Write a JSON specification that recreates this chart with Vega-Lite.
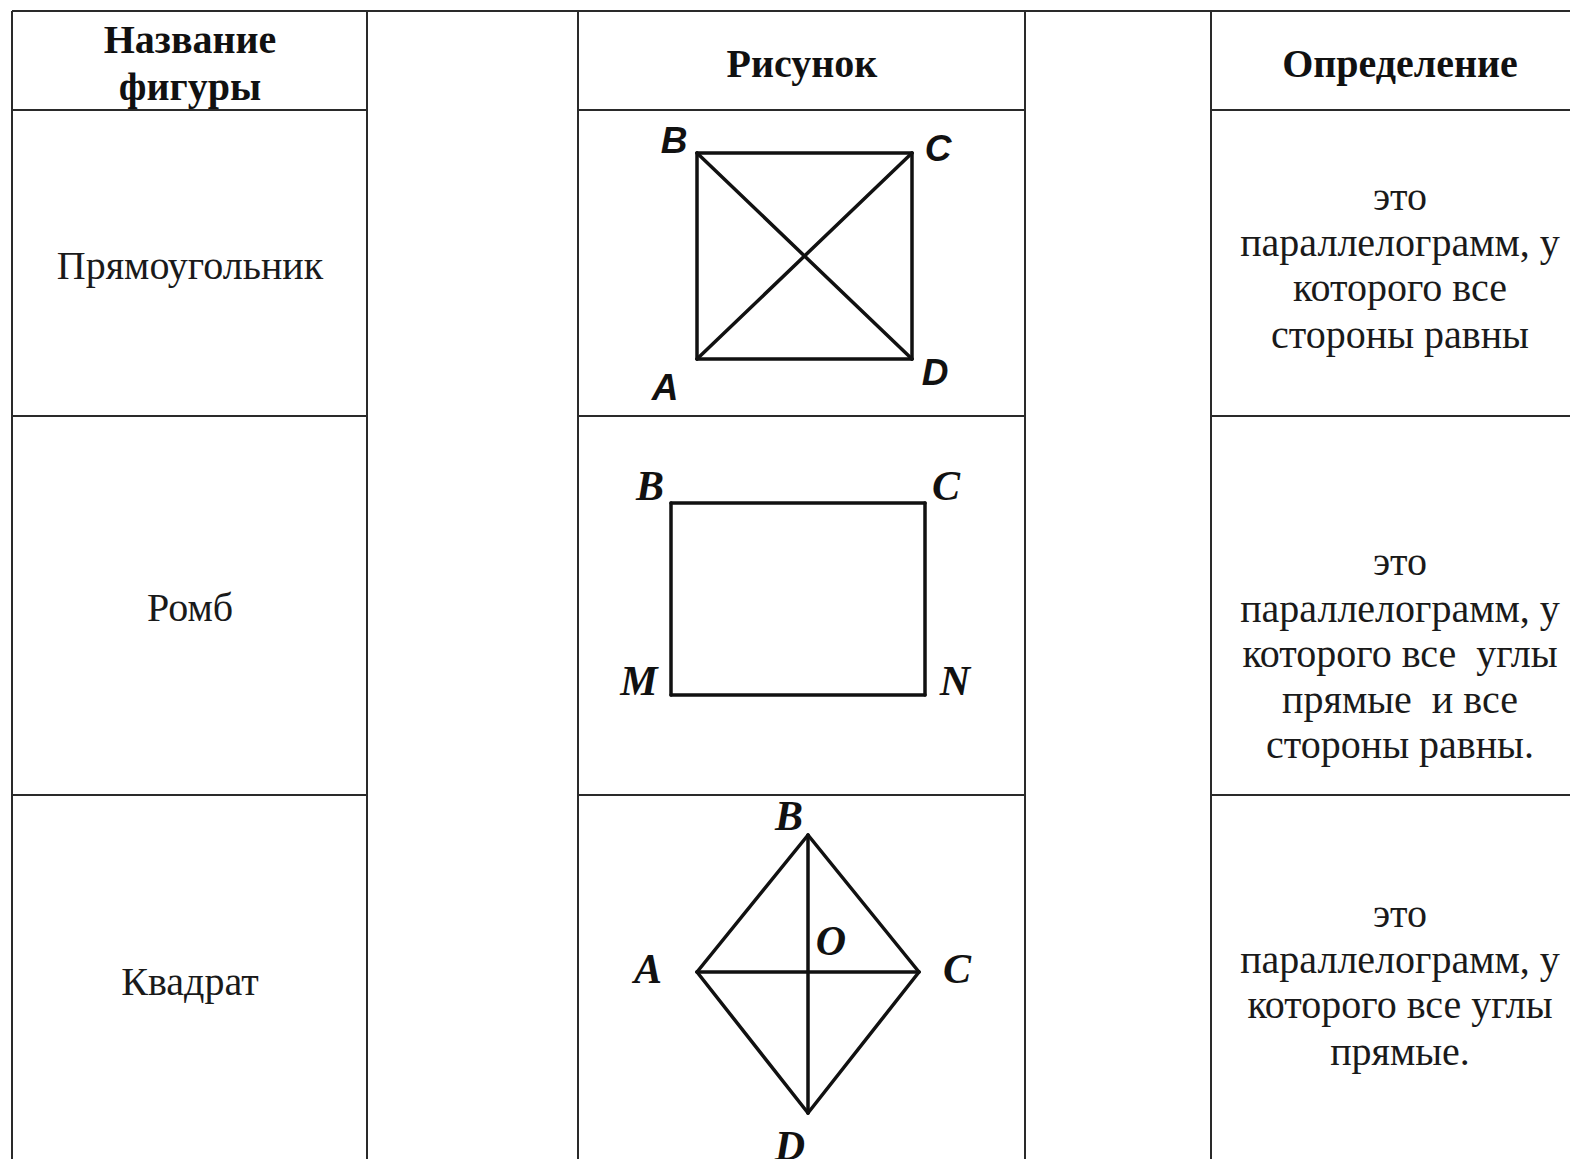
{
  "$schema": "https://vega.github.io/schema/vega-lite/v6.json",
  "width": 1570,
  "height": 1159,
  "padding": 0,
  "autosize": {"type": "none"},
  "background": "white",
  "config": {"view": {"stroke": null}},
  "datasets": {
    "grid": [
      {"x": 12, "x2": 1570, "y": 11, "y2": 11},
      {"x": 12, "x2": 12, "y": 11, "y2": 1159},
      {"x": 367, "x2": 367, "y": 11, "y2": 1159},
      {"x": 578, "x2": 578, "y": 11, "y2": 1159},
      {"x": 1025, "x2": 1025, "y": 11, "y2": 1159},
      {"x": 1211, "x2": 1211, "y": 11, "y2": 1159},
      {"x": 12, "x2": 367, "y": 110, "y2": 110},
      {"x": 578, "x2": 1025, "y": 110, "y2": 110},
      {"x": 1211, "x2": 1570, "y": 110, "y2": 110},
      {"x": 12, "x2": 367, "y": 416, "y2": 416},
      {"x": 578, "x2": 1025, "y": 416, "y2": 416},
      {"x": 1211, "x2": 1570, "y": 416, "y2": 416},
      {"x": 12, "x2": 367, "y": 795, "y2": 795},
      {"x": 578, "x2": 1025, "y": 795, "y2": 795},
      {"x": 1211, "x2": 1570, "y": 795, "y2": 795}
    ],
    "shapes": [
      {"x": 697, "y": 359, "x2": 697, "y2": 153},
      {"x": 697, "y": 153, "x2": 912, "y2": 153},
      {"x": 912, "y": 153, "x2": 912, "y2": 359},
      {"x": 912, "y": 359, "x2": 697, "y2": 359},
      {"x": 697, "y": 359, "x2": 912, "y2": 153},
      {"x": 697, "y": 153, "x2": 912, "y2": 359},
      {"x": 671, "y": 503, "x2": 925, "y2": 503},
      {"x": 925, "y": 503, "x2": 925, "y2": 695},
      {"x": 925, "y": 695, "x2": 671, "y2": 695},
      {"x": 671, "y": 695, "x2": 671, "y2": 503},
      {"x": 697, "y": 972, "x2": 808, "y2": 835},
      {"x": 808, "y": 835, "x2": 919, "y2": 972},
      {"x": 919, "y": 972, "x2": 808, "y2": 1113},
      {"x": 808, "y": 1113, "x2": 697, "y2": 972},
      {"x": 697, "y": 972, "x2": 919, "y2": 972},
      {"x": 808, "y": 835, "x2": 808, "y2": 1113}
    ],
    "labelsSans": [
      {"x": 674, "y": 153, "t": "B"},
      {"x": 938, "y": 161, "t": "C"},
      {"x": 665, "y": 400, "t": "A"},
      {"x": 935, "y": 385, "t": "D"}
    ],
    "labelsSerif": [
      {"x": 650, "y": 500, "t": "B"},
      {"x": 946, "y": 500, "t": "C"},
      {"x": 639, "y": 695, "t": "M"},
      {"x": 955, "y": 695, "t": "N"},
      {"x": 789, "y": 830, "t": "B"},
      {"x": 831, "y": 955, "t": "O"},
      {"x": 648, "y": 983, "t": "A"},
      {"x": 957, "y": 983, "t": "C"},
      {"x": 790, "y": 1160, "t": "D"}
    ],
    "headers": [
      {"x": 190, "y": 53, "t": "Название"},
      {"x": 190, "y": 100, "t": "фигуры"},
      {"x": 802, "y": 77, "t": "Рисунок"},
      {"x": 1400, "y": 77, "t": "Определение"}
    ],
    "body": [
      {"x": 190, "y": 279, "t": "Прямоугольник"},
      {"x": 190, "y": 621, "t": "Ромб"},
      {"x": 190, "y": 995, "t": "Квадрат"},
      {"x": 1400, "y": 210, "t": "это"},
      {"x": 1400, "y": 256, "t": "параллелограмм, у"},
      {"x": 1400, "y": 301, "t": "которого все"},
      {"x": 1400, "y": 348, "t": "стороны равны"},
      {"x": 1400, "y": 575, "t": "это"},
      {"x": 1400, "y": 622, "t": "параллелограмм, у"},
      {"x": 1400, "y": 667, "t": "которого все \u00a0углы"},
      {"x": 1400, "y": 713, "t": "прямые \u00a0и все"},
      {"x": 1400, "y": 758, "t": "стороны равны."},
      {"x": 1400, "y": 927, "t": "это"},
      {"x": 1400, "y": 973, "t": "параллелограмм, у"},
      {"x": 1400, "y": 1018, "t": "которого все углы"},
      {"x": 1400, "y": 1065, "t": "прямые."}
    ]
  },
  "layer": [
    {
      "data": {"name": "grid"},
      "mark": {"type": "rule", "color": "#2a2a2a", "strokeWidth": 2},
      "encoding": {
        "x": {"field": "x", "type": "quantitative", "axis": null, "scale": {"domain": [0, 1570], "nice": false, "zero": false}},
        "x2": {"field": "x2"},
        "y": {"field": "y", "type": "quantitative", "axis": null, "scale": {"domain": [0, 1159], "nice": false, "zero": false, "reverse": true}},
        "y2": {"field": "y2"}
      }
    },
    {
      "data": {"name": "shapes"},
      "mark": {"type": "rule", "color": "#111111", "strokeWidth": 3.5, "strokeCap": "round"},
      "encoding": {
        "x": {"field": "x", "type": "quantitative", "axis": null, "scale": {"domain": [0, 1570], "nice": false, "zero": false}},
        "x2": {"field": "x2"},
        "y": {"field": "y", "type": "quantitative", "axis": null, "scale": {"domain": [0, 1159], "nice": false, "zero": false, "reverse": true}},
        "y2": {"field": "y2"}
      }
    },
    {
      "data": {"name": "labelsSans"},
      "mark": {"type": "text", "font": "Liberation Sans", "fontSize": 37, "fontWeight": "bold", "fontStyle": "italic", "align": "center", "baseline": "alphabetic", "color": "#111111"},
      "encoding": {
        "x": {"field": "x", "type": "quantitative", "axis": null, "scale": {"domain": [0, 1570], "nice": false, "zero": false}},
        "y": {"field": "y", "type": "quantitative", "axis": null, "scale": {"domain": [0, 1159], "nice": false, "zero": false, "reverse": true}},
        "text": {"field": "t"}
      }
    },
    {
      "data": {"name": "labelsSerif"},
      "mark": {"type": "text", "font": "Liberation Serif", "fontSize": 42, "fontWeight": "bold", "fontStyle": "italic", "align": "center", "baseline": "alphabetic", "color": "#111111"},
      "encoding": {
        "x": {"field": "x", "type": "quantitative", "axis": null, "scale": {"domain": [0, 1570], "nice": false, "zero": false}},
        "y": {"field": "y", "type": "quantitative", "axis": null, "scale": {"domain": [0, 1159], "nice": false, "zero": false, "reverse": true}},
        "text": {"field": "t"}
      }
    },
    {
      "data": {"name": "headers"},
      "mark": {"type": "text", "font": "Liberation Serif", "fontSize": 40, "fontWeight": "bold", "align": "center", "baseline": "alphabetic", "color": "#111111"},
      "encoding": {
        "x": {"field": "x", "type": "quantitative", "axis": null, "scale": {"domain": [0, 1570], "nice": false, "zero": false}},
        "y": {"field": "y", "type": "quantitative", "axis": null, "scale": {"domain": [0, 1159], "nice": false, "zero": false, "reverse": true}},
        "text": {"field": "t"}
      }
    },
    {
      "data": {"name": "body"},
      "mark": {"type": "text", "font": "Liberation Serif", "fontSize": 40, "align": "center", "baseline": "alphabetic", "color": "#1a1a1a"},
      "encoding": {
        "x": {"field": "x", "type": "quantitative", "axis": null, "scale": {"domain": [0, 1570], "nice": false, "zero": false}},
        "y": {"field": "y", "type": "quantitative", "axis": null, "scale": {"domain": [0, 1159], "nice": false, "zero": false, "reverse": true}},
        "text": {"field": "t"}
      }
    }
  ]
}
